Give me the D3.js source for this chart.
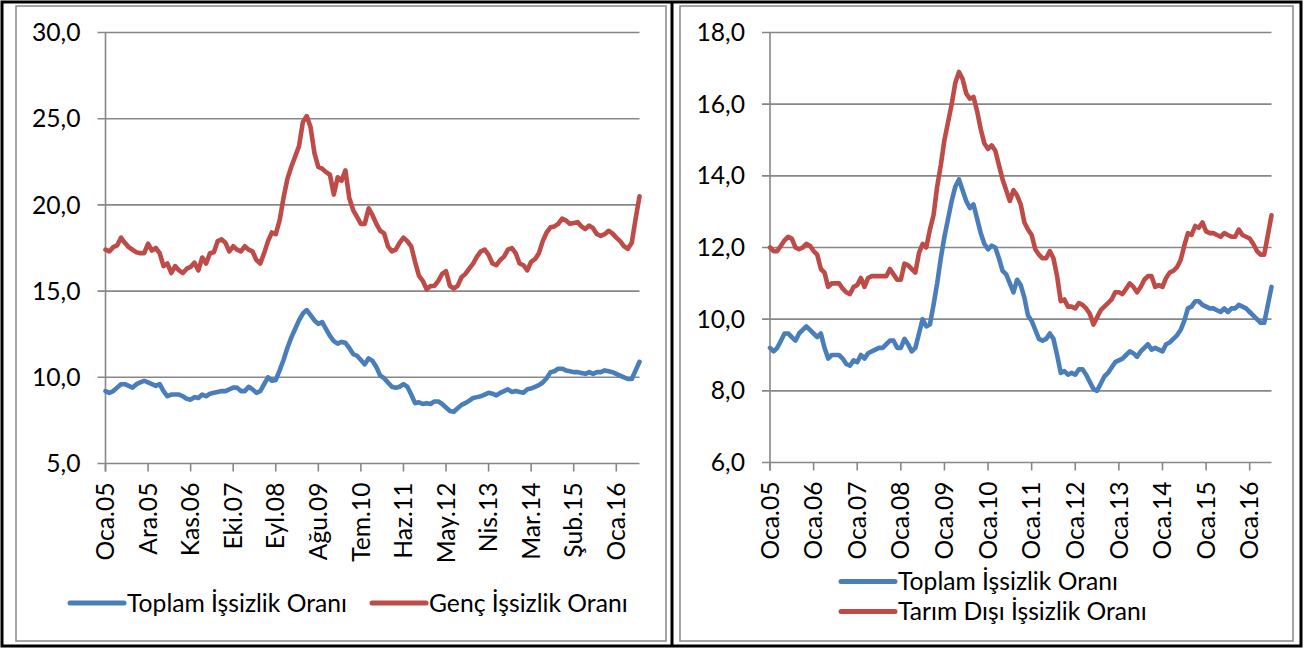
<!DOCTYPE html>
<html><head><meta charset="utf-8">
<script src="https://cdn.jsdelivr.net/npm/d3@7"></script>
<style>
html,body{margin:0;padding:0;background:#fff;}
svg{display:block;}
text{font-family:Lato,"Open Sans",sans-serif;fill:#000;}
</style></head>
<body><svg id="c" width="1304" height="649"></svg>
<script>
// Turkish month abbreviations used for category labels
const ayAdlari = ["Oca","Şub","Mar","Nis","May","Haz","Tem","Ağu","Eyl","Eki","Kas","Ara"];
const baslangicYil = 2005;
const noktaSayisi = 139; // Oca.05 .. Tem.16

// Toplam İşsizlik Oranı (both panels)
const toplam = [9.2,9.1,9.2,9.4,9.6,9.6,9.5,9.4,9.6,9.7,9.8,9.7,9.6,9.5,9.6,9.2,8.9,9.0,9.0,9.0,
8.9,8.75,8.7,8.85,8.8,9.0,8.9,9.05,9.1,9.15,9.2,9.2,9.3,9.4,9.4,9.2,9.2,9.45,9.3,9.1,
9.2,9.6,10.0,9.8,9.85,10.4,11.0,11.7,12.3,12.8,13.3,13.7,13.9,13.6,13.3,13.1,13.2,12.8,12.4,12.1,
11.95,12.05,12.0,11.7,11.35,11.25,11.0,10.75,11.1,10.95,10.6,10.1,9.95,9.7,9.45,9.4,9.45,9.6,9.45,9.0,
8.5,8.55,8.45,8.5,8.45,8.6,8.6,8.45,8.25,8.05,8.0,8.2,8.4,8.5,8.65,8.8,8.85,8.9,9.0,9.1,
9.05,8.95,9.1,9.2,9.3,9.15,9.2,9.15,9.1,9.3,9.35,9.45,9.55,9.7,9.95,10.3,10.35,10.5,10.5,10.4,
10.35,10.3,10.3,10.25,10.2,10.3,10.2,10.3,10.3,10.4,10.35,10.3,10.2,10.1,10.0,9.9,9.9,10.4,10.9];

// Genç İşsizlik Oranı (left panel)
const genc = [17.4,17.3,17.55,17.65,18.1,17.8,17.55,17.4,17.25,17.2,17.2,17.75,17.35,17.5,17.2,16.45,16.6,16.05,16.45,16.2,
16.05,16.3,16.4,16.65,16.2,16.95,16.6,17.2,17.25,17.9,18.0,17.8,17.3,17.6,17.4,17.3,17.6,17.4,17.3,16.8,
16.6,17.2,17.9,18.4,18.3,19.1,20.4,21.5,22.2,22.8,23.4,24.8,25.15,24.5,23.0,22.2,22.1,21.9,21.75,20.6,
21.6,21.4,22.0,20.4,19.7,19.3,18.9,18.9,19.8,19.4,18.9,18.5,18.35,17.6,17.3,17.4,17.8,18.1,17.9,17.6,
16.7,15.9,15.6,15.1,15.3,15.3,15.6,16.0,16.15,15.3,15.15,15.3,15.8,16.0,16.3,16.6,17.0,17.3,17.4,17.1,
16.6,16.5,16.8,17.0,17.4,17.5,17.2,16.6,16.5,16.2,16.7,16.85,17.2,17.9,18.4,18.7,18.75,18.9,19.2,19.1,
18.9,18.95,19.0,18.75,18.6,18.8,18.65,18.3,18.2,18.3,18.5,18.35,18.1,17.9,17.6,17.45,17.8,19.2,20.5];

// Tarım Dışı İşsizlik Oranı (right panel)
const tarimDisi = [12.0,11.9,11.9,12.05,12.2,12.3,12.25,12.0,11.95,12.0,12.1,12.05,11.9,11.8,11.4,11.3,10.9,11.0,11.0,11.0,
10.85,10.75,10.7,10.9,10.95,11.15,10.9,11.15,11.2,11.2,11.2,11.2,11.2,11.4,11.25,11.1,11.1,11.55,11.5,11.4,
11.3,11.85,12.1,12.0,12.5,12.9,13.7,14.3,15.0,15.5,16.0,16.6,16.9,16.7,16.3,16.15,16.2,15.8,15.3,14.9,
14.75,14.85,14.7,14.3,13.9,13.6,13.3,13.6,13.45,13.2,12.7,12.5,12.35,11.95,11.8,11.7,11.7,11.9,11.7,11.2,
10.5,10.55,10.35,10.35,10.3,10.45,10.4,10.3,10.15,9.85,10.05,10.25,10.35,10.45,10.55,10.75,10.75,10.7,10.85,11.0,
10.9,10.75,10.9,11.1,11.2,11.2,10.9,10.95,10.9,11.15,11.3,11.35,11.45,11.65,12.05,12.4,12.35,12.6,12.55,12.7,
12.45,12.4,12.4,12.35,12.3,12.4,12.35,12.3,12.3,12.5,12.35,12.3,12.25,12.1,11.9,11.8,11.8,12.35,12.9];

const solYTicks = [5,10,15,20,25,30];
const sagYTicks = [6,8,10,12,14,16,18];
const solEtiketAraligi = 11;
const sagEtiketAraligi = 12;

const seriAdlari = {toplam:"Toplam İşsizlik Oranı", genc:"Genç İşsizlik Oranı", tarim:"Tarım Dışı İşsizlik Oranı"};

// category labels
const kategoriler = [];
for (let i = 0; i < noktaSayisi; i++) {
  const ay = i % 12, yil = baslangicYil + Math.floor(i / 12);
  kategoriler.push(ayAdlari[ay] + "." + String(yil % 100).padStart(2, "0"));
}

const MAVI = "#4A7EBB", KIRMIZI = "#BE4B48", GRI = "#878787";
const svg = d3.select("#c");

// font size fit
const probe = svg.append("text").style("font-size","20px").text(seriAdlari.toplam);
const w20 = probe.node().getComputedTextLength();
probe.remove();
const FS = 20 * 220 / w20;

// frames
svg.append("rect").attr("x",16).attr("y",6).attr("width",650).attr("height",635)
  .attr("fill","none").attr("stroke",GRI).attr("stroke-width",1.5);
svg.append("rect").attr("x",680).attr("y",6).attr("width",613).attr("height",635)
  .attr("fill","none").attr("stroke",GRI).attr("stroke-width",1.5);
svg.append("rect").attr("x",2).attr("y",2).attr("width",1299).attr("height",644)
  .attr("fill","none").attr("stroke","#000").attr("stroke-width",3);
svg.append("line").attr("x1",672).attr("x2",672).attr("y1",2).attr("y2",647)
  .attr("stroke","#000").attr("stroke-width",3);

const fmt = v => d3.format(".1f")(v).replace(".", ",");

function panel(opts) {
  const g = svg.append("g");
  const x = d3.scaleLinear().domain([0, noktaSayisi - 1]).range([opts.x0, opts.x1]);
  const y = d3.scaleLinear().domain(opts.yDomain).range([opts.yBottom, opts.yTop]);
  // gridlines
  g.selectAll(".grid").data(opts.yTicks).join("line")
    .attr("x1", opts.x0 - 8).attr("x2", opts.x1)
    .attr("y1", d => y(d)).attr("y2", d => y(d))
    .attr("stroke", GRI).attr("stroke-width", 1.6);
  // y axis line
  g.append("line").attr("x1", opts.x0).attr("x2", opts.x0)
    .attr("y1", y(opts.yDomain[1])).attr("y2", y(opts.yDomain[0]) + 8)
    .attr("stroke", GRI).attr("stroke-width", 1.6);
  // y labels
  g.selectAll(".yl").data(opts.yTicks).join("text")
    .attr("x", opts.x0 - 25).attr("y", d => y(d)).attr("dy", "0.35em")
    .attr("text-anchor", "end").style("font-size", FS + "px").text(fmt);
  // x ticks
  const xt = d3.range(0, noktaSayisi, opts.aralik);
  g.selectAll(".xt").data(xt).join("line")
    .attr("x1", d => x(d)).attr("x2", d => x(d))
    .attr("y1", y(opts.yDomain[0])).attr("y2", y(opts.yDomain[0]) + 8)
    .attr("stroke", GRI).attr("stroke-width", 1.6);
  g.selectAll(".xl").data(xt).join("text")
    .attr("transform", d => `translate(${x(d)},${y(opts.yDomain[0]) + 19}) rotate(-90)`)
    .attr("text-anchor", "end").attr("dy", "0.35em")
    .style("font-size", FS + "px").text(d => kategoriler[d]);
  // series
  const line = d3.line().x((d, i) => x(i)).y(d => y(d));
  opts.series.forEach(s => {
    g.append("path").datum(s.values).attr("d", line)
      .attr("fill", "none").attr("stroke", s.color).attr("stroke-width", 4.6)
      .attr("stroke-linejoin", "round").attr("stroke-linecap", "round");
  });
  // legend
  opts.legend.forEach(l => {
    g.append("line").attr("x1", l.x).attr("x2", l.x + 54).attr("y1", l.y).attr("y2", l.y)
      .attr("stroke", l.color).attr("stroke-width", 5).attr("stroke-linecap", "round");
    g.append("text").attr("x", l.x + 57).attr("y", l.y).attr("dy", "0.35em")
      .style("font-size", FS + "px").text(l.name);
  });
}

panel({
  x0: 105.5, x1: 639.5, yTop: 32.5, yBottom: 463.5, yDomain: [5, 30], yTicks: solYTicks,
  aralik: solEtiketAraligi,
  series: [{values: toplam, color: MAVI}, {values: genc, color: KIRMIZI}],
  legend: [{x: 70, y: 603, color: MAVI, name: seriAdlari.toplam},
           {x: 372, y: 603, color: KIRMIZI, name: seriAdlari.genc}]
});
panel({
  x0: 770, x1: 1271.5, yTop: 32.5, yBottom: 462.5, yDomain: [6, 18], yTicks: sagYTicks,
  aralik: sagEtiketAraligi,
  series: [{values: toplam, color: MAVI}, {values: tarimDisi, color: KIRMIZI}],
  legend: [{x: 841, y: 581.5, color: MAVI, name: seriAdlari.toplam},
           {x: 841, y: 611.5, color: KIRMIZI, name: seriAdlari.tarim}]
});
</script></body></html>
